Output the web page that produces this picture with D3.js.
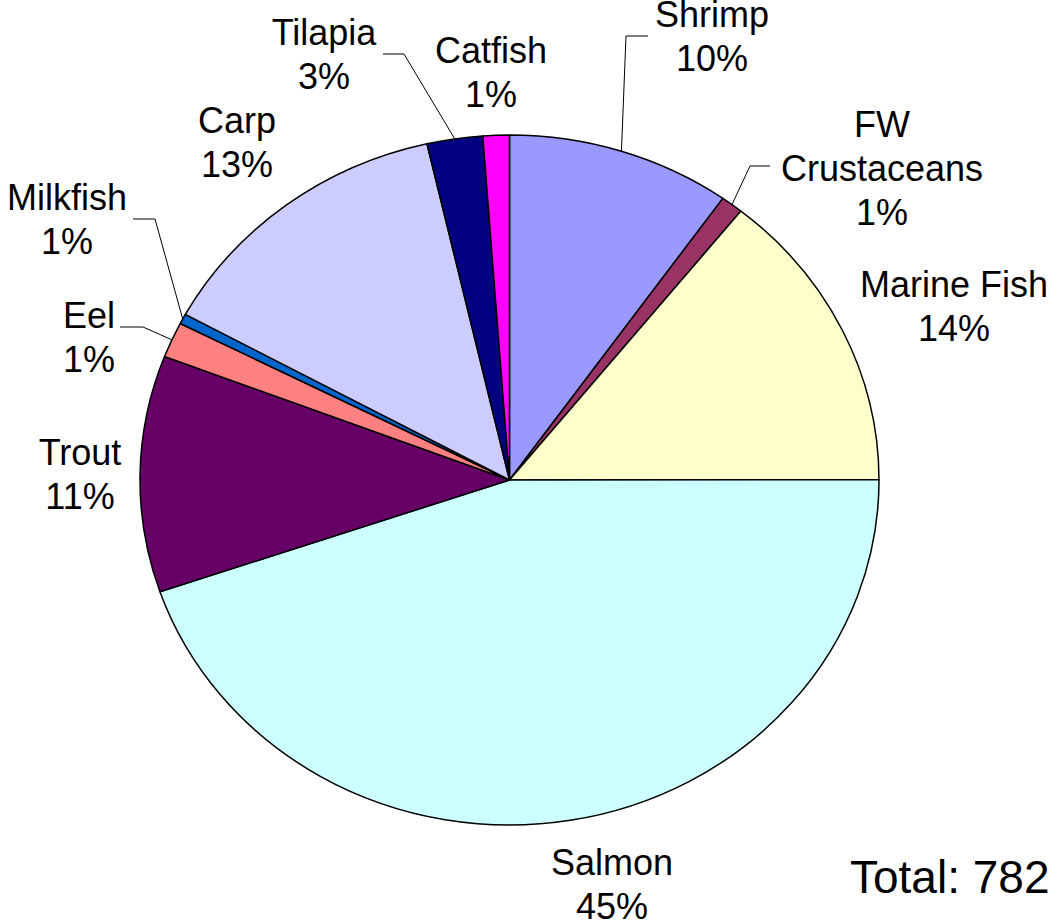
<!DOCTYPE html>
<html>
<head>
<meta charset="utf-8">
<script src="https://cdn.jsdelivr.net/npm/d3@7"></script>
<style>
  html, body { margin: 0; padding: 0; background: #fff; overflow: hidden; }
  svg { display: block; }
  text { font-family: "Liberation Sans", Arial, sans-serif; fill: #000; }
</style>
</head>
<body>
<svg id="chart" width="1051" height="921"></svg>
<script>
// ---- Data ----
const categories = ["Shrimp", "FW Crustaceans", "Marine Fish", "Salmon", "Trout", "Eel", "Milkfish", "Carp", "Tilapia", "Catfish"];
const values = [76.5, 7.6, 111, 349.5, 86.5, 13, 3.7, 105, 19, 9];   // thousand tonnes (est.)
const pctLabels = ["10%", "1%", "14%", "45%", "11%", "1%", "1%", "13%", "3%", "1%"];
const nameLines = [["Shrimp"], ["FW", "Crustaceans"], ["Marine Fish"], ["Salmon"], ["Trout"], ["Eel"], ["Milkfish"], ["Carp"], ["Tilapia"], ["Catfish"]];
const colors = ["#9999FF", "#993366", "#FFFFCC", "#CCFFFF", "#660066", "#FF8080", "#0066CC", "#CCCCFF", "#000080", "#FF00FF"];
const totalText = "Total: 782";

// ---- Layout ----
const W = 1051, H = 921;
const cx = 509.5, cy = 480, rx = 369.5, ry = 345;
const fontSize = 36, lineH = 44;
// label anchor: centre x, baseline of first line
const labelPos = [
  {x: 712, y: 27}, {x: 882, y: 137}, {x: 954, y: 297}, {x: 612, y: 875},
  {x: 80, y: 465}, {x: 89, y: 328}, {x: 67, y: 210}, {x: 237, y: 133},
  {x: 324, y: 45}, {x: 491, y: 63}
];
// leader lines: label-side start and elbow (null = no leader)
const leaders = [
  [[648, 36], [626, 36]], [[770, 166], [750, 166]], null, null,
  null, [[120, 327], [143, 327]], [[133, 219], [155, 219]], null,
  [[383, 54], [404, 54]], null
];

const svg = d3.select("#chart");

const data = categories.map((c, i) => ({name: c, value: values[i], i}));
const pie = d3.pie().value(d => d.value).sort(null).startAngle(0).endAngle(2 * Math.PI);
const arcs = pie(data);
const arc = d3.arc().innerRadius(0).outerRadius(ry);

const g = svg.append("g")
  .attr("transform", `translate(${cx},${cy}) scale(${rx / ry},1)`);

g.selectAll("path")
  .data(arcs)
  .join("path")
  .attr("d", arc)
  .attr("fill", d => colors[d.data.i])
  .attr("stroke", "#000")
  .attr("stroke-width", 1.5)
  .attr("stroke-linejoin", "round")
  .attr("vector-effect", "non-scaling-stroke");

// leader lines
arcs.forEach(a => {
  const L = leaders[a.data.i];
  if (!L) return;
  const mid = (a.startAngle + a.endAngle) / 2;
  const px = cx + rx * Math.sin(mid);
  const py = cy - ry * Math.cos(mid);
  svg.append("polyline")
    .attr("points", [L[0], L[1], [px, py]].map(p => p.join(",")).join(" "))
    .attr("fill", "none")
    .attr("stroke", "#000")
    .attr("stroke-width", 1);
});

// labels
arcs.forEach(a => {
  const i = a.data.i;
  const lines = nameLines[i].concat([pctLabels[i]]);
  const t = svg.append("text")
    .attr("text-anchor", "middle")
    .attr("font-size", fontSize)
    .attr("x", labelPos[i].x)
    .attr("y", labelPos[i].y);
  lines.forEach((ln, k) => {
    t.append("tspan")
      .attr("x", labelPos[i].x)
      .attr("dy", k === 0 ? 0 : lineH)
      .text(ln);
  });
});

svg.append("text")
  .attr("x", 850)
  .attr("y", 893)
  .attr("font-size", 46)
  .text(totalText);
</script>
</body>
</html>
